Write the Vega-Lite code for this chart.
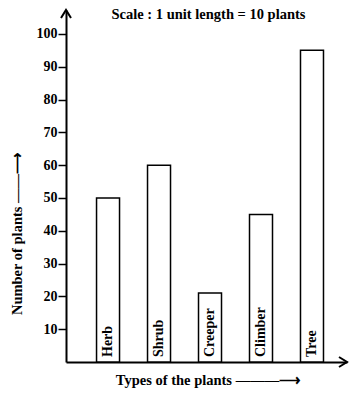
{
  "$schema": "https://vega.github.io/schema/vega-lite/v6.json",
  "autosize": "none",
  "width": 281,
  "height": 352,
  "padding": {"left": 66, "top": 10, "right": 5, "bottom": 35},
  "background": "white",
  "config": {
    "view": {"stroke": null},
    "font": "Liberation Serif",
    "axis": {"grid": false}
  },
  "title": {
    "text": "Scale : 1 unit length = 10 plants",
    "frame": "group",
    "anchor": "middle",
    "offset": -16,
    "dx": 2,
    "fontSize": 14.5,
    "fontWeight": "bold",
    "font": "Liberation Serif",
    "color": "black"
  },
  "datasets": {
    "plants": [
      {"type": "Herb", "count": 50},
      {"type": "Shrub", "count": 60},
      {"type": "Creeper", "count": 21},
      {"type": "Climber", "count": 45},
      {"type": "Tree", "count": 95}
    ],
    "arrows": [
      {"ax": 1, "ay": 0, "dir": "right"},
      {"ax": 0, "ay": 107.3, "dir": "up"}
    ]
  },
  "layer": [
    {
      "data": {"name": "plants"},
      "layer": [
        {
          "mark": {"type": "bar", "fill": "white", "stroke": "black", "strokeWidth": 1.5},
          "encoding": {
            "x": {
              "field": "type",
              "type": "nominal",
              "sort": null,
              "scale": {"paddingInner": 0.549, "paddingOuter": 0.53, "align": 0.565},
              "axis": {
                "labels": false,
                "ticks": false,
                "domainColor": "black",
                "domainWidth": 2,
                "title": "Types of the plants \u2014\u2014\u2014\u27F6",
                "titleFont": "Liberation Serif",
                "titleFontSize": 14.5,
                "titleFontWeight": "bold",
                "titleColor": "black",
                "titlePadding": 11,
                "titleX": 142
              }
            },
            "y": {
              "field": "count",
              "type": "quantitative",
              "scale": {"domain": [0, 107.3], "nice": false, "zero": true},
              "axis": {
                "values": [10, 20, 30, 40, 50, 60, 70, 80, 90, 100],
                "tickCount": 20,
                "labelOverlap": false,
                "labelFlush": false,
                "domainColor": "black",
                "domainWidth": 2,
                "tickColor": "black",
                "tickSize": 8,
                "tickWidth": 1.5,
                "labelPadding": 1,
                "labelFont": "Liberation Serif",
                "labelFontSize": 14,
                "labelFontWeight": "bold",
                "labelColor": "black",
                "title": "Number of plants \u2014\u2014\u27F6",
                "titleFont": "Liberation Serif",
                "titleFontSize": 14.5,
                "titleFontWeight": "bold",
                "titleColor": "black",
                "titlePadding": 12,
                "titleY": 223
              }
            }
          }
        },
        {
          "mark": {
            "type": "text",
            "angle": 270,
            "align": "left",
            "baseline": "middle",
            "dx": 5,
            "fontSize": 14,
            "fontWeight": "bold",
            "font": "Liberation Serif",
            "color": "black"
          },
          "encoding": {
            "x": {"field": "type", "type": "nominal", "sort": null},
            "y": {"datum": 0, "type": "quantitative"},
            "text": {"field": "type"}
          }
        }
      ]
    },
    {
      "data": {"name": "arrows"},
      "mark": {"type": "point", "filled": false, "stroke": "black", "strokeWidth": 2, "size": 100, "opacity": 1},
      "encoding": {
        "x": {"field": "ax", "type": "quantitative", "scale": {"domain": [0, 1], "nice": false, "zero": false}, "axis": null},
        "y": {"field": "ay", "type": "quantitative", "scale": {"domain": [0, 107.3], "nice": false}, "axis": null},
        "shape": {
          "field": "dir",
          "type": "nominal",
          "scale": {"domain": ["right", "up"], "range": ["M-1.6,-1L0,0L-1.6,1", "M-1,1.6L0,0L1,1.6"]},
          "legend": null
        }
      }
    }
  ],
  "resolve": {"scale": {"x": "independent"}, "axis": {"x": "independent", "y": "independent"}}
}
